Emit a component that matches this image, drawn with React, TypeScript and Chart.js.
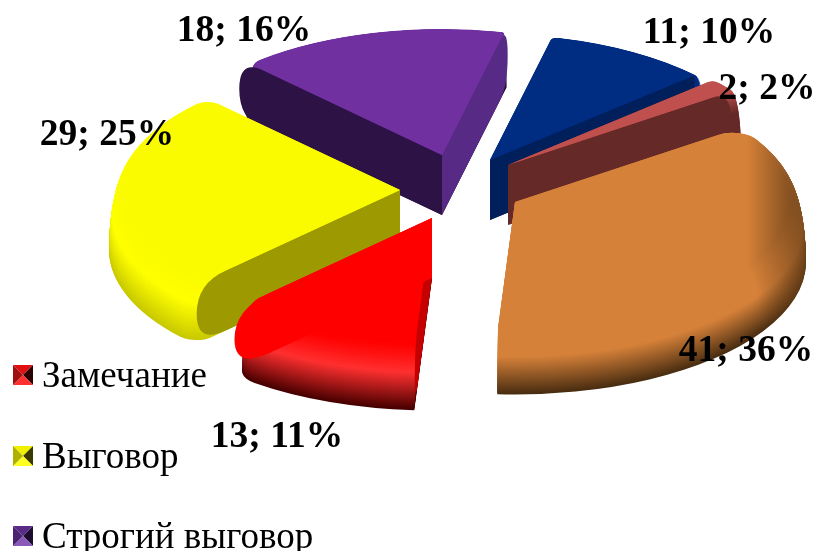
import React, { useEffect, useRef } from "react";
import { Chart, registerables } from "chart.js";

Chart.register(...registerables);

// ---- data ----
const legendLabels = ["Замечание", "Выговор", "Строгий выговор"];
const categories = ["Замечание", "Выговор", "Строгий выговор", "", "", ""];
const counts = [13, 29, 18, 11, 2, 41];

// ---- styles ----
const topColors = ["#ff0000", "#fbfb00", "#7030a0", "#002c82", "#c0504d", "#d68139"];
const startFace = ["#c40000", "#9c9a00", "#2d1345", null, null, null];
const endFace = ["#ff0000", null, "#572b85", "#011f5b", "#652a28", null];
const rimDark = [[70, 0, 0], [200, 200, 0], [40, 15, 60], [0, 20, 60], [101, 42, 40], [72, 44, 16]];
const rimMid = [[255, 48, 48], [255, 255, 0], [112, 48, 160], [0, 44, 130], [101, 42, 40], [214, 129, 57]];
const sideShade = [null, null, null, null, null, "#6a4018"];
const apexX = [432, 400, 442, 490, 508, 515];
const apexY = [218, 190, 155, 160, 165, 202];
const radii = [
  { outerStart: 0, outerEnd: 30, innerStart: 0, innerEnd: 0 },
  { outerStart: 20, outerEnd: 14, innerStart: 0, innerEnd: 0 },
  { outerStart: 14, outerEnd: 4, innerStart: 0, innerEnd: 0 },
  { outerStart: 6, outerEnd: 0, innerStart: 0, innerEnd: 0 },
  { outerStart: 6, outerEnd: 6, innerStart: 0, innerEnd: 0 },
  { outerStart: 24, outerEnd: 0, innerStart: 0, innerEnd: 0 },
];
const faceRound = [0.18, 0.14, 0.12, 0, 0.08, 0];
const faceScale = [1.02, 1.05, 1.06, 1, 1, 1];
const labelDx = [-155, -293, -198, 219, 259, 231];
const labelDy = [219, -55, -124, -127, -76, 149];
const paintOrder = [2, 3, 4, 1, 0, 5];
const legendIcons = [
  ["#e01010", "#2a0000", "#ff3030", "#a01010"],
  ["#f0f000", "#3a3a00", "#ffff20", "#b0b000"],
  ["#5a2a88", "#1e0c30", "#8a58b8", "#4a2470"],
];
const legendRowY = [375, 456, 536];
const K = 0.455;
const DEPTH = 60;
const BEVEL = 15;
const RADIUS = 276;
const LAYERS = 70;

const mix = (a: number[], b: number[], t: number) =>
  `rgb(${a.map((v, i) => Math.round(v + (b[i] - v) * t)).join(",")})`;

const hex = (s: string) => [1, 3, 5].map((i) => parseInt(s.slice(i, i + 2), 16));

const pie3d = {
  id: "pie3d",
  beforeDatasetsDraw(chart: any) {
    const { ctx } = chart;
    const els = chart.getDatasetMeta(0).data;
    const shaded = (el: any, i: number, color: string) => {
      const dark = sideShade[i];
      if (!dark) return color;
      const g = ctx.createLinearGradient(el.x + RADIUS * 0.84, 0, el.x + RADIUS * 1.05, 0);
      g.addColorStop(0, color);
      g.addColorStop(1, dark);
      return g;
    };
    const drawArc = (el: any, i: number, dy: number, scale: number, color: string) => {
      const saved = el.options;
      el.options = { ...saved, backgroundColor: shaded(el, i, color), borderWidth: 0, offset: 0, spacing: 0 };
      ctx.save();
      ctx.translate(apexX[i], apexY[i] + dy);
      ctx.scale(scale, K * scale);
      ctx.translate(-el.x, -el.y);
      el.draw(ctx);
      ctx.restore();
      el.options = saved;
    };
    const drawFace = (i: number, angle: number, color: string | null) => {
      if (!color) return;
      const ax = apexX[i];
      const ay = apexY[i];
      const r = RADIUS * faceScale[i];
      const ux = Math.cos(angle) * r;
      const uy = Math.sin(angle) * r * K;
      const c = faceRound[i];
      ctx.beginPath();
      ctx.moveTo(ax, ay);
      ctx.lineTo(ax + ux * (1 - c), ay + uy * (1 - c));
      ctx.quadraticCurveTo(ax + ux, ay + uy, ax + ux, ay + uy + DEPTH * 0.5);
      ctx.quadraticCurveTo(ax + ux, ay + uy + DEPTH, ax + ux * (1 - c), ay + uy * (1 - c) + DEPTH);
      ctx.lineTo(ax, ay + DEPTH);
      ctx.closePath();
      ctx.fillStyle = color;
      ctx.fill();
    };
    paintOrder.forEach((i) => {
      const el = els[i];
      const top = hex(topColors[i]);
      for (let n = 0; n < LAYERS; n++) {
        const s = n / (LAYERS - 1);
        const grow = 1 + (BEVEL / RADIUS) * Math.sqrt(1 - s * s);
        const color =
          s < 0.6 ? mix(rimDark[i], rimMid[i], s / 0.6) : mix(rimMid[i], top, (s - 0.6) / 0.4);
        drawArc(el, i, DEPTH * (1 - s), grow, color);
      }
      drawFace(i, el.startAngle, startFace[i]);
      drawFace(i, el.endAngle, endFace[i]);
      drawArc(el, i, 0, 1, topColors[i]);
    });
    return false;
  },
  afterDraw(chart: any) {
    const { ctx } = chart;
    const values: number[] = chart.data.datasets[0].data;
    const total = values.reduce((a, b) => a + b, 0);
    ctx.save();
    ctx.fillStyle = "#000";
    ctx.textAlign = "center";
    ctx.textBaseline = "middle";
    ctx.font = 'bold 37.5px "Liberation Serif"';
    values.forEach((v, i) => {
      ctx.fillText(`${v}; ${Math.round((v / total) * 100)}%`, apexX[i] + labelDx[i], apexY[i] + labelDy[i]);
    });
    ctx.textAlign = "left";
    ctx.textBaseline = "alphabetic";
    ctx.font = '37px "Liberation Serif"';
    legendLabels.forEach((t, i) => {
      const cy = legendRowY[i];
      const x0 = 13, x1 = 33, y0 = cy - 10, y1 = cy + 10, cx = 23;
      const tri = (ax: number, ay: number, bx: number, by: number, col: string) => {
        ctx.beginPath();
        ctx.moveTo(ax, ay);
        ctx.lineTo(bx, by);
        ctx.lineTo(cx, cy);
        ctx.closePath();
        ctx.fillStyle = col;
        ctx.fill();
      };
      const [tc, rc, bc, lc] = legendIcons[i];
      tri(x0, y0, x1, y0, tc);
      tri(x1, y0, x1, y1, rc);
      tri(x1, y1, x0, y1, bc);
      tri(x0, y1, x0, y0, lc);
      ctx.fillStyle = "#000";
      ctx.fillText(t, 42, cy + 12);
    });
    ctx.restore();
  },
};

export default function App() {
  const ref = useRef<HTMLCanvasElement | null>(null);
  useEffect(() => {
    if (!ref.current) return;
    const chart = new Chart(ref.current, {
      type: "pie",
      data: {
        labels: categories,
        datasets: [
          {
            data: counts,
            backgroundColor: topColors,
            borderWidth: 0,
            borderRadius: radii,
          } as any,
        ],
      },
      options: {
        responsive: false,
        animation: false,
        rotation: 183.5,
        radius: RADIUS,
        layout: { padding: 0 },
        plugins: { legend: { display: false }, tooltip: { enabled: false } },
      } as any,
      plugins: [pie3d as any],
    });
    return () => chart.destroy();
  }, []);
  return (
    <div style={{ position: "absolute", left: 0, top: 0, width: 816, height: 551, overflow: "hidden", background: "#fff" }}>
      <canvas ref={ref} width={816} height={551} style={{ display: "block" }} />
    </div>
  );
}
